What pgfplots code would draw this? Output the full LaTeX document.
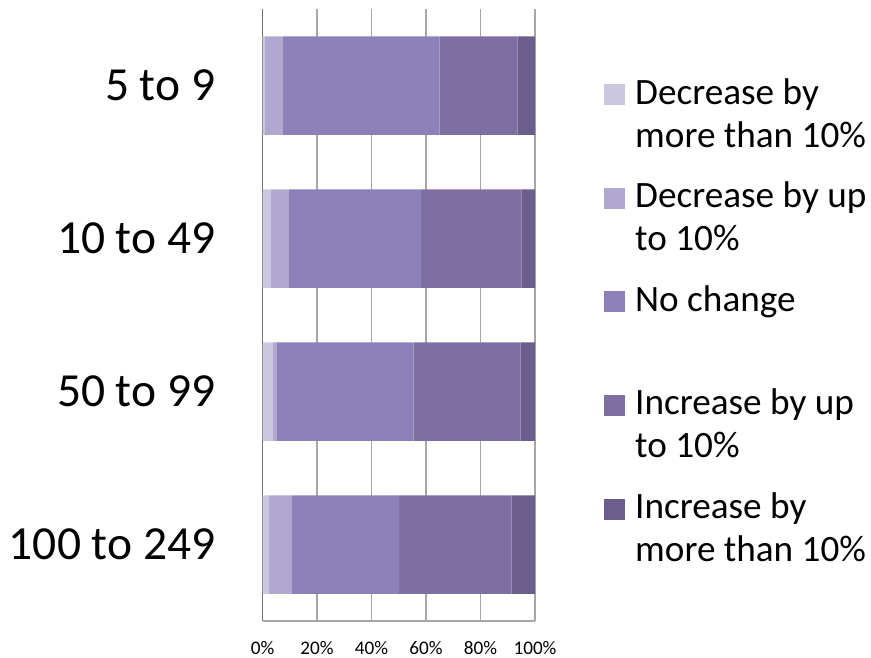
\documentclass[border=0pt]{standalone}
\usepackage{pgfplots}
\pgfplotsset{compat=1.18}
\usepackage{fontspec}
\setmainfont{Carlito}
\definecolor{c1}{HTML}{CCC7E1}
\definecolor{c2}{HTML}{B0A8CE}
\definecolor{c3}{HTML}{8D80B9}
\definecolor{c4}{HTML}{7E6FA3}
\definecolor{c5}{HTML}{6B5D8C}
\definecolor{gridc}{HTML}{A6A6A6}
\pgfplotsset{myleg/.style={legend image code/.code={\fill[##1] (0bp,-1bp) rectangle (21bp,20bp);}}}
\begin{document}
\begin{tikzpicture}
\path[use as bounding box] (0,0) rectangle (871bp,658bp);
\begin{axis}[
  at={(262.5bp,37bp)}, anchor=south west,
  scale only axis, width=272.5bp, height=612bp,
  xbar stacked, bar width=98.5bp,
  xmin=0, xmax=100, ymin=-0.5, ymax=3.5, y dir=reverse,
  xtick={0,20,40,60,80,100},
  xticklabels={0\%,20\%,40\%,60\%,80\%,100\%},
  ytick={0,1,2,3},
  yticklabels={5 to 9,10 to 49,50 to 99,100 to 249},
  xticklabel style={font=\fontsize{19.2bp}{23bp}\selectfont, inner sep=0pt, yshift=-20bp},
  yticklabel style={font=\fontsize{47.5bp}{57bp}\selectfont, inner sep=0pt, xshift=-47bp},
  major tick length=0pt, tick style={draw=none},
  xmajorgrids, grid style={gridc, line width=1.2bp},
  separate axis lines,
  axis y line*=left, axis x line*=bottom,
  y axis line style={draw=gray!90!black, line width=1.2bp},
  x axis line style={draw=gridc, line width=1.2bp},
  legend style={at={(axis description cs:1.2532,0.894)}, anchor=north west,
    draw=none, fill=none, inner sep=0pt, row sep=72bp, column sep=10bp,
    font=\fontsize{37.2bp}{43bp}\selectfont, nodes={inner sep=0pt, anchor=base}},
  legend cell align=left,
]
\addplot[fill=c1, draw=none, myleg] coordinates {(0.7,0) (3.1,1) (3.6,2) (2.4,3)};
\addlegendentry{\parbox[t]{250bp}{\strut Decrease by\\\strut more than 10\%}}
\addplot[fill=c2, draw=none, myleg] coordinates {(6.8,0) (6.6,1) (1.7,2) (8.4,3)};
\addlegendentry{\parbox[t]{250bp}{\strut Decrease by up\\\strut to 10\%}}
\addplot[fill=c3, draw=none, myleg] coordinates {(57.5,0) (48.5,1) (50.2,2) (39.2,3)};
\addlegendentry{\parbox[t]{250bp}{\strut No change\\\strut}}
\addplot[fill=c4, draw=none, myleg] coordinates {(28.6,0) (36.9,1) (39.2,2) (41.4,3)};
\addlegendentry{\parbox[t]{250bp}{\strut Increase by up\\\strut to 10\%}}
\addplot[fill=c5, draw=none, myleg] coordinates {(6.4,0) (4.9,1) (5.3,2) (8.6,3)};
\addlegendentry{\parbox[t]{250bp}{\strut Increase by\\\strut more than 10\%}}
\end{axis}
\end{tikzpicture}
\end{document}
